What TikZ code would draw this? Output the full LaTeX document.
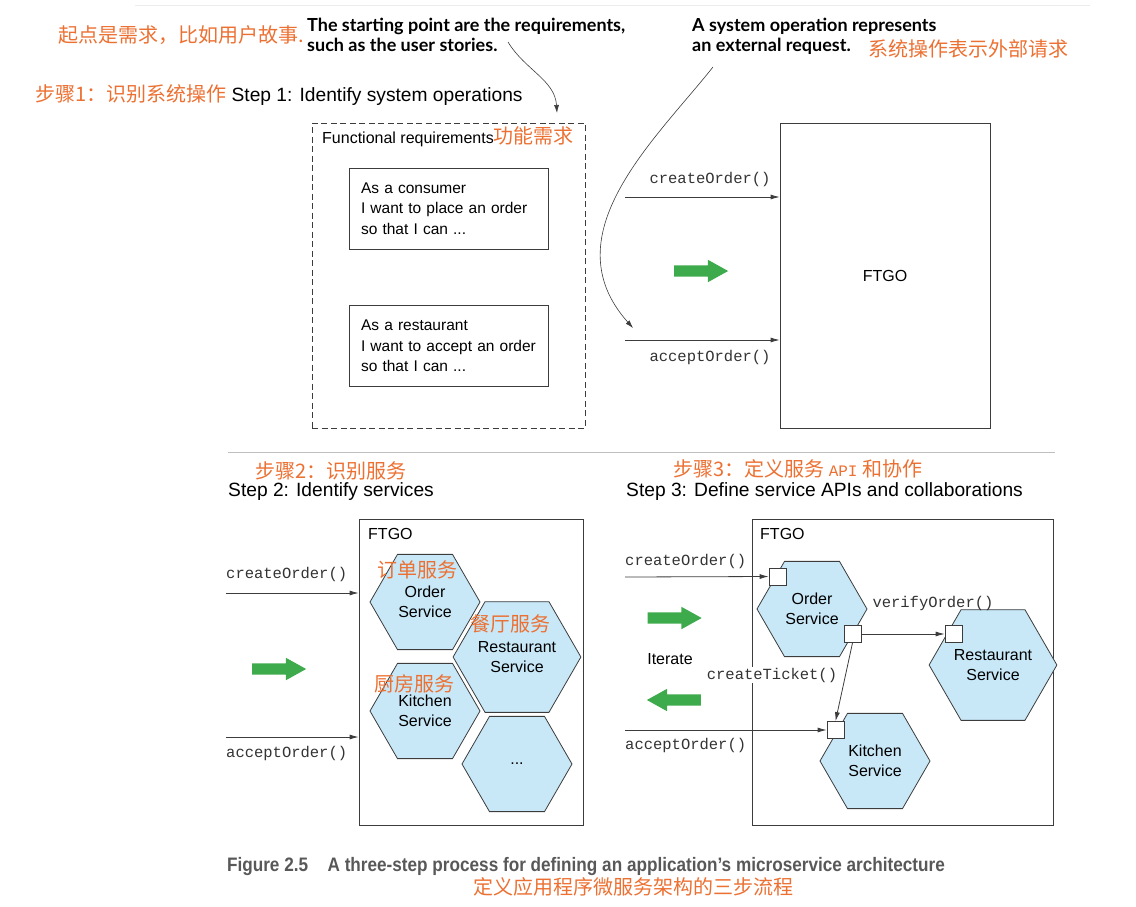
\documentclass[tikz,border=0pt]{standalone}
\usepackage{fontspec}
\setmainfont{Liberation Sans}
\setmonofont{Liberation Mono}
\newfontfamily\cjk{Noto Sans CJK SC}
\newfontfamily\notefont{Lato}
\newfontfamily\capfont[FakeStretch=0.88]{Liberation Sans}
\usetikzlibrary{arrows.meta,calc,shapes.geometric,shapes.arrows}
\definecolor{zhorange}{RGB}{236,112,50}
\definecolor{svcblue}{RGB}{200,232,248}
\definecolor{okgreen}{RGB}{61,170,76}
\definecolor{linegray}{RGB}{60,60,60}
\definecolor{capgray}{RGB}{88,88,88}
\newcommand{\zh}[1]{{\cjk\fontsize{20}{22}\selectfont\color{zhorange}#1}}

\begin{document}
\begin{tikzpicture}[x=1pt,y=-1pt,
    font=\fontsize{15.5}{20.5}\selectfont,
    zhtext/.style={font=\cjk\fontsize{20}{22}\selectfont,text=zhorange,inner sep=0pt},
    notetext/.style={font=\notefont\bfseries\fontsize{18}{19.5}\selectfont,align=left,inner sep=0pt},
    steptitle/.style={font=\fontsize{19.2}{22}\selectfont,inner sep=0pt,anchor=west},
    story/.style={rectangle,draw=linegray,line width=0.8pt,minimum width=199pt,
        minimum height=81pt,text width=175pt,inner xsep=12pt,align=left},
    reqbox/.style={rectangle,draw=linegray,dash pattern=on 6pt off 3.5pt,line width=0.8pt,
        minimum width=273pt,minimum height=305pt},
    sysbox/.style={rectangle,draw=linegray,line width=0.8pt},
    boxlabel/.style={font=\fontsize{16}{18}\selectfont,inner sep=0pt,anchor=west},
    svc/.style={regular polygon,regular polygon sides=6,minimum size=110pt,inner sep=0pt,
        draw=linegray,fill=svcblue,line width=0.8pt,align=center,font=\fontsize{16}{20.5}\selectfont},
    port/.style={rectangle,draw=linegray,fill=white,line width=0.8pt,minimum size=17pt,inner sep=0pt},
    op/.style={font=\ttfamily\fontsize{15.5}{18}\selectfont,text=black!80,inner sep=0pt},
    opline/.style={draw=linegray,line width=0.8pt,-{Latex[length=9pt,width=5pt]}},
    callout/.style={draw=linegray,line width=0.6pt,-{Latex[length=8pt,width=5pt]}},
    fatarrow/.style={single arrow,fill=okgreen,draw=none,inner xsep=0pt,inner ysep=5.5pt,
        minimum height=54pt,single arrow head extend=5.5pt,single arrow tip angle=58}
]
\useasboundingbox (0,0) rectangle (1136,906);
\draw[gray!15,line width=0.8pt] (135,5) -- (1090,5);
\node[zhtext,anchor=east] (zhstart) at (304,35) {起点是需求，比如用户故事.};
\node[notetext,anchor=north west] (startnote) at (307,18) {The starting point are the requirements,\\such as the user stories.};
\node[notetext,anchor=north west] (opnote) at (692,18) {A system operation represents\\an external request.};
\node[zhtext,anchor=west] (zhop) at (868,49) {系统操作表示外部请求};
\node[steptitle] (step1) at (35,95) {\zh{步骤1：识别系统操作} Step 1: Identify system operations};
\node[reqbox] (reqs) at (448.5,275.5) {};
\node[boxlabel] (reqslabel) at (322,137) {Functional requirements\zh{功能需求}};
\node[story] (consumer) at (448.5,208.5) {As a consumer\\I want to place an order\\so that I can ...};
\node[story] (restaurant) at (448.5,346) {As a restaurant\\I want to accept an order\\so that I can ...};
\node[sysbox,minimum width=210pt,minimum height=305pt,font=\fontsize{16}{18}\selectfont] (ftgo1) at (885,275.5) {FTGO};
\node[fatarrow] (go1) at (696,271) {};
\coordinate (create1) at (625,197);
\coordinate (accept1) at (625,340);
\draw[opline] (create1) -- node[op,above=10pt,pos=0.55] {createOrder()} (create1 -| ftgo1.west);
\draw[opline] (accept1) -- node[op,below=10pt,pos=0.55] {acceptOrder()} (accept1 -| ftgo1.west);
\coordinate (storiesend) at (508,42);
\coordinate (reqtop) at (557,113);
\draw[callout] (storiesend) .. controls (525,70) and (555,80) .. (reqtop);
\coordinate (opfrom) at (713,67);
\coordinate (opto) at (633,328);
\draw[callout] (opfrom) .. controls (655,140) and (550,235) .. (opto);
\draw[gray!50,line width=0.8pt] (228,452) -- (1055,452);
\node[zhtext,anchor=west] (zhstep2) at (255,471) {步骤2：识别服务};
\node[steptitle] (step2) at (228,492) {Step 2: Identify services};
\node[sysbox,minimum width=224pt,minimum height=306pt] (ftgo2) at (471,672) {};
\node[boxlabel] (ftgo2label) at (368,534) {FTGO};
\node[svc] (order2) at (425,602) {Order\\Service};
\node[svc] (restaurant2) at (517,657) {Restaurant\\Service};
\node[svc] (kitchen2) at (425,711) {Kitchen\\Service};
\node[svc] (more2) at (517,764) {...};
\node[zhtext] (zhorder2) at (417,570) {订单服务};
\node[zhtext] (zhrest2) at (510,624) {餐厅服务};
\node[zhtext] (zhkitchen2) at (414,684) {厨房服务};
\node[fatarrow] (go2) at (274,669) {};
\coordinate (create2) at (226,593);
\coordinate (accept2) at (226,737);
\draw[opline] (create2) -- (create2 -| ftgo2.west);
\draw[opline] (accept2) -- (accept2 -| ftgo2.west);
\node[op,anchor=south west] (create2label) at ([yshift=11pt]create2) {createOrder()};
\node[op,anchor=north west] (accept2label) at ([yshift=-9pt]accept2) {acceptOrder()};
\node[zhtext,anchor=west] (zhstep3) at (673,469) {步骤3：定义服务 {\ttfamily\fontsize{16}{20}\selectfont API} 和协作};
\node[steptitle] (step3) at (626,492) {Step 3: Define service APIs and collaborations};
\node[sysbox,minimum width=301pt,minimum height=306pt] (ftgo3) at (902.5,672) {};
\node[boxlabel] (ftgo3label) at (760,534) {FTGO};
\node[svc] (order3) at (812,609) {Order\\Service};
\node[svc] (restaurant3) at (993,665) {Restaurant\\Service};
\node[svc] (kitchen3) at (875,761) {Kitchen\\Service};
\node[fatarrow] (go3) at (669.5,618) {};
\node[fatarrow,shape border rotate=180] (back3) at (679,700) {};
\node[inner sep=0pt,font=\fontsize{16}{18}\selectfont] (iterate) at (670,659) {Iterate};
\coordinate (create3) at (625,577);
\coordinate (accept3) at (625,730);
\node[port] (orderin) at (777.5,576.5) {};
\node[port] (orderout) at (852.5,634) {};
\node[port] (restaurantin) at (953.5,634) {};
\node[port] (kitchenin) at (835.5,730) {};
\draw[opline] (create3) -- (orderin.west);
\draw[opline] (accept3) -- (kitchenin.west);
\draw[opline] (orderout.east) -- (restaurantin.west);
\draw[opline] (orderout.south) -- (kitchenin.north);
\node[op,anchor=south west] (create3label) at ([yshift=8pt]create3) {createOrder()};
\node[op,anchor=north west] (accept3label) at ([yshift=-8pt]accept3) {acceptOrder()};
\node[op] (verifylabel) at (933,603) {verifyOrder()};
\node[op,fill=white,inner sep=1pt] (ticketlabel) at (772,675) {createTicket()};
\node[font=\capfont\bfseries\fontsize{19.5}{22}\selectfont,text=capgray,inner sep=0pt] (caption) at (586,866)
    {Figure 2.5\quad A three-step process for defining an application’s microservice architecture};
\node[zhtext] (zhcaption) at (633,887) {定义应用程序微服务架构的三步流程};
\end{tikzpicture}
\end{document}
